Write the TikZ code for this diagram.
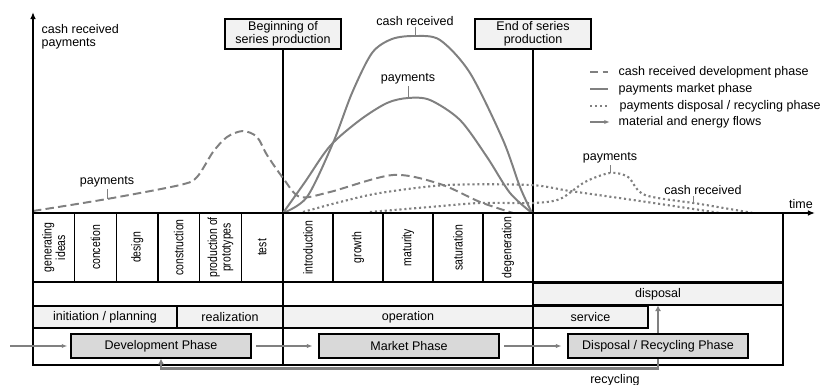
\documentclass[tikz,border=0pt]{standalone}
\usepackage{fontspec}
\setmainfont{Liberation Sans}
\newfontfamily\narrowfont[FakeStretch=0.8]{Liberation Sans}
\usetikzlibrary{arrows.meta}
\definecolor{curvegray}{RGB}{128,128,128}
\definecolor{barfill}{RGB}{242,242,242}
\definecolor{phasefill}{RGB}{217,217,217}
\tikzset{
  lbl/.style={font=\fontsize{8.9}{9.4}\selectfont, inner sep=1pt},
  headbox/.style={lbl, draw, fill=barfill, line width=1.2pt, minimum width=2.9cm, minimum height=0.75cm, align=center},
  axis/.style={line width=1.1pt, -{Latex[length=5pt,width=4pt]}},
  tab/.style={line width=1.1pt},
  cell/.style={draw, line width=1.1pt, rotate=90, minimum width=1.725cm, inner sep=0pt, align=center, font=\narrowfont\fontsize{9.3}{9.6}\selectfont},
  bar/.style={lbl, draw, fill=barfill, line width=0.8pt, minimum height=0.55cm},
  phase/.style={lbl, draw, fill=phasefill, line width=1.1pt, minimum width=4.5cm, minimum height=0.6cm},
  flow/.style={draw=curvegray, line width=1pt, -{Latex[length=4pt,width=3pt]}},
  bigflow/.style={draw=curvegray, line width=2pt, -{Latex[length=4pt,width=4.5pt]}},
  devcurve/.style={curvegray, line width=1.4pt, dash pattern=on 6pt off 3pt},
  mktcurve/.style={curvegray, line width=1.4pt},
  dispcurve/.style={curvegray, line width=1.5pt, dash pattern=on 1.5pt off 2pt},
  tickline/.style={curvegray, line width=0.6pt}
}

\begin{document}
\begin{tikzpicture}[x=0.025cm, y=-0.025cm]
\useasboundingbox (0,0) rectangle (821,385);

\coordinate (o) at (33,213);
\coordinate (ytop) at (33,12);
\coordinate (xend) at (815,213);
\coordinate (tbr) at (783,365);
\coordinate (in) at (10,346);

\node[headbox] (b1) at (283,34) {Beginning of\\series production};
\node[headbox] (b2) at (533,34) {End of series\\production};
\node[lbl, anchor=north west, align=left] (ya) at (40,23) {cash received\\payments};
\node[lbl] (tm) at (801,204) {time};

\draw[tab] (o) rectangle (tbr);
\draw[tab] (o |- 0,282) -- (tbr |- 0,282);
\draw[tab] (b1.south) -- (b1 |- tbr);
\draw[tab] (b2.south) -- (b2 |- tbr);

\node[cell, minimum height=1.0417cm] (c1) at (53.8,247.5) {generating\\ideas};
\node[cell, minimum height=1.0417cm] (c2) at (95.5,247.5) {concetion};
\node[cell, minimum height=1.0417cm] (c3) at (137.2,247.5) {design};
\node[cell, minimum height=1.0417cm] (c4) at (178.8,247.5) {construction};
\node[cell, minimum height=1.0417cm] (c5) at (220.5,247.5) {production of\\prototypes};
\node[cell, minimum height=1.0417cm] (c6) at (262.2,247.5) {test};
\node[cell, minimum height=1.25cm] (c7) at (308,247.5) {introduction};
\node[cell, minimum height=1.25cm] (c8) at (358,247.5) {growth};
\node[cell, minimum height=1.25cm] (c9) at (408,247.5) {maturity};
\node[cell, minimum height=1.25cm] (c10) at (458,247.5) {saturation};
\node[cell, minimum height=1.25cm] (c11) at (508,247.5) {degeneration};

\node[bar, minimum width=3.6cm] (r1) at (105,317) {initiation / planning};
\node[bar, minimum width=2.65cm] (r2) at (230,317) {realization};
\node[bar, minimum width=6.25cm] (r3) at (408,317) {operation};
\node[bar, minimum width=2.875cm] (r4) at (590.5,317) {service};
\node[bar, minimum width=6.25cm] (r5) at (658,294) {disposal};

\node[phase] (p1) at (161,346) {Development Phase};
\node[phase] (p2) at (409,346) {Market Phase};
\node[phase] (p3) at (658,346) {Disposal / Recycling Phase};
\node[lbl] (rc) at (615,380) {recycling};

\draw[flow, shorten >=2pt] (in) -- (p1);
\draw[flow, shorten <=3pt, shorten >=4pt] (p1) -- (p2);
\draw[flow, shorten <=3pt, shorten >=4pt] (p2) -- (p3);
\draw[bigflow] (p3) -- (r5);
\draw[bigflow] (p3.south) -- ++(0,10) -| (p1.south);

\draw[devcurve] plot[smooth] coordinates {(33,211) (107,199) (180,185) (197,177) (213,152) (227,137) (243,131) (257,137) (267,155) (283,178) (300,197) (330,192) (393,175) (440,184) (480,202) (513,213)};
\draw[mktcurve] plot[smooth] coordinates {(283,213) (307,197) (333,143) (352,93) (372,53) (392,39) (415,36) (440,40) (470,73) (503,140) (520,187) (532,213)};
\draw[mktcurve] plot[smooth] coordinates {(283,213) (305,182) (330,146) (360,120) (387,103) (408,98) (430,100) (460,120) (487,157) (510,193) (532,213)};
\draw[dispcurve] plot[smooth] coordinates {(303,212) (340,202) (380,193) (447,185) (530,185) (570,191) (640,201) (720,213)};
\draw[dispcurve] plot[smooth] coordinates {(370,212) (430,207) (480,203) (533,203) (560,199) (585,182) (610,173) (628,177) (645,195) (700,204) (753,213)};

\draw[axis] (o) -- (ytop);
\draw[axis] (o) -- (xend);

\node[lbl] (l1) at (415,21) {cash received};
\node[lbl] (l2) at (408,79) {payments};
\node[lbl] (l3) at (107,182) {payments};
\node[lbl] (l4) at (610,158) {payments};
\node[lbl] (l5) at (703,190) {cash received};
\draw[tickline] (l1.south) -- ++(0,9);
\draw[tickline] (l2.south) -- ++(0,11);
\draw[tickline] (l3.south) -- ++(0,10);
\draw[tickline] (l4.south) -- ++(0,8);
\draw[tickline] ([xshift=-7pt]l5.south) -- ++(0,8);

\node[lbl, anchor=west] (g1) at (617,72) {cash received development phase};
\node[lbl, anchor=west] (g2) at (617,89) {payments market phase};
\node[lbl, anchor=west] (g3) at (618,106) {payments disposal / recycling phase};
\node[lbl, anchor=west] (g4) at (617,122) {material and energy flows};
\draw[devcurve] (g1.west) ++(-27,0) -- ++(18,0);
\draw[mktcurve] (g2.west) ++(-27,0) -- ++(18,0);
\draw[dispcurve] (g3.west) ++(-28,0) -- ++(18,0);
\draw[flow, line width=1.6pt] (g4.west) ++(-27,0) -- ++(20,0);
\end{tikzpicture}
\end{document}
